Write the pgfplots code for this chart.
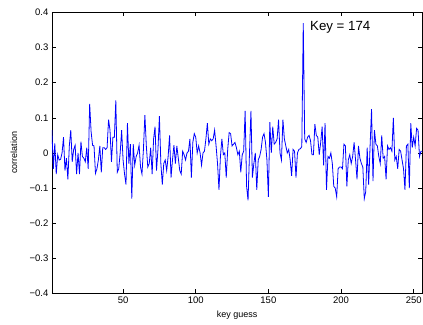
\documentclass[border=0pt]{standalone}
\usepackage{pgfplots}
\pgfplotsset{compat=1.18}
\usepackage{pgfplotstable}
\usepackage{fontspec}
\setmainfont{Liberation Sans}
\pgfplotstableread{
y
0.065
-0.045
0.027
-0.060
-0.005
-0.020
-0.018
0.000
0.045
-0.050
-0.015
-0.075
0.020
0.065
-0.025
0.010
0.022
-0.060
0.000
-0.060
0.032
-0.010
-0.015
-0.025
0.015
-0.045
0.140
0.060
0.022
0.020
-0.058
-0.045
-0.020
0.020
-0.055
0.015
0.015
0.010
0.015
0.095
0.065
-0.025
0.045
0.045
0.150
-0.055
-0.045
0.000
0.065
-0.020
-0.060
-0.090
0.085
-0.030
0.025
-0.130
0.025
-0.035
-0.010
0.000
0.022
-0.040
-0.060
0.010
0.108
0.020
-0.040
-0.030
0.015
-0.060
0.040
0.075
-0.050
0.010
0.105
-0.030
-0.090
-0.030
-0.020
-0.050
-0.010
0.050
-0.070
-0.020
0.022
-0.030
0.020
-0.015
-0.050
-0.060
0.005
-0.005
-0.020
0.000
0.005
0.040
-0.070
0.030
0.055
0.045
0.000
0.020
0.000
-0.035
0.000
0.005
0.040
0.085
0.025
0.040
0.035
0.040
0.065
0.020
-0.030
-0.105
-0.010
0.040
-0.005
0.000
-0.070
0.010
0.058
0.055
0.020
0.025
0.030
0.015
-0.005
0.005
-0.055
-0.005
0.005
0.120
-0.095
-0.135
0.000
0.120
-0.070
-0.030
0.000
-0.105
-0.020
-0.010
0.010
0.045
0.055
0.030
-0.020
-0.125
0.088
0.000
0.075
0.025
0.030
0.040
0.095
0.000
-0.020
0.095
0.040
0.020
0.000
0.010
-0.020
-0.065
0.010
0.005
-0.070
0.000
0.010
0.012
0.018
0.370
0.040
0.030
0.045
0.050
0.035
-0.005
-0.005
0.082
0.050
0.045
-0.005
0.030
0.075
-0.035
0.085
-0.105
-0.010
-0.015
0.000
-0.030
-0.095
-0.100
-0.125
-0.045
-0.040
-0.040
-0.045
0.025
0.020
-0.095
-0.020
-0.005
-0.030
-0.010
0.030
-0.020
-0.075
0.020
-0.015
-0.030
-0.040
-0.130
-0.110
0.015
-0.090
0.020
0.125
-0.080
0.065
0.025
0.020
-0.010
-0.030
0.050
-0.015
-0.010
-0.075
0.020
0.010
0.015
0.005
0.100
-0.020
-0.010
-0.045
0.010
0.005
-0.020
-0.045
-0.105
0.020
0.025
-0.100
0.085
0.015
0.045
0.020
0.070
0.065
-0.010
0.005
0.005
}\corr
\begin{document}
\begin{tikzpicture}
\begin{axis}[name=ax, scale only axis, width=370.6pt, height=281pt,
  xmin=1, xmax=256, ymin=-0.4, ymax=0.4,
  xtick={50,100,150,200,250},
  ytick={-0.4,-0.3,-0.2,-0.1,0,0.1,0.2,0.3,0.4},
  yticklabels={−0.4,−0.3,−0.2,−0.1,0,0.1,0.2,0.3,0.4},
  tick align=inside, major tick length=4pt,
  tick style={black, line width=0.5pt},
  axis line style={line width=0.6pt},
  ticklabel style={font=\fontsize{9.5}{11}\selectfont},
  /pgf/number format/assume math mode=true,
  xlabel={key guess}, ylabel={correlation},
  label style={font=\fontsize{9}{11}\selectfont},
  xlabel style={at={(axis description cs:0.5,-0.079)}, anchor=center},
  ylabel style={at={(axis description cs:-0.1023,0.5)}, anchor=center},
  clip mode=individual]
\addplot[blue, line width=0.8pt, mark=none] table[x expr=\coordindex+1, y=y] {\corr};
\node[anchor=west, font=\fontsize{13.3}{15}\selectfont, inner sep=0pt] at (axis cs:178.6,0.358) {Key = 174};
\end{axis}
\pgfresetboundingbox
\path ([xshift=-51.9pt,yshift=-31.5pt]ax.south west) rectangle ([xshift=0.6pt,yshift=12.5pt]ax.north east);
\end{tikzpicture}
\end{document}
